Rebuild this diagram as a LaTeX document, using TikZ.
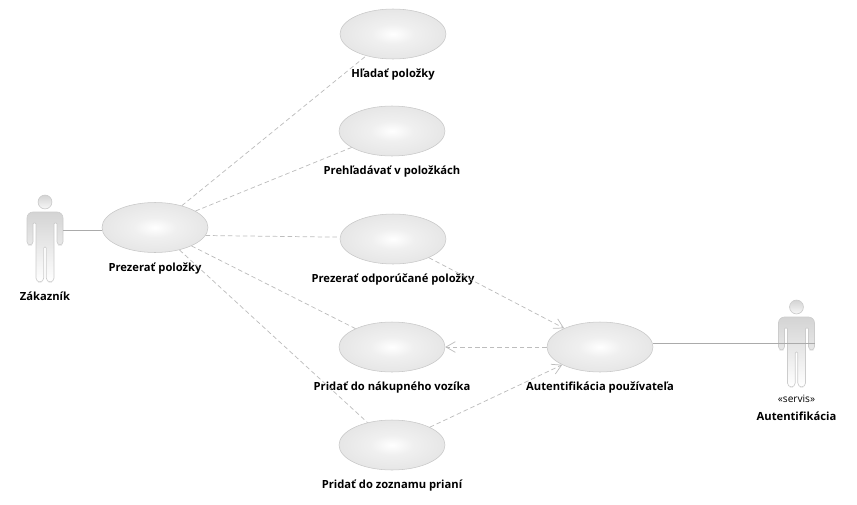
\documentclass[tikz,border=0pt]{standalone}
\usepackage{fontspec}
\setmainfont{Open Sans}
\usetikzlibrary{positioning,shapes.geometric,arrows.meta}
\pgfdeclareradialshading{ucshade}{\pgfpoint{0bp}{0bp}}{color(0bp)=(white); color(10bp)=(black!6); color(30bp)=(black!11); color(50bp)=(black!16)}
\begin{document}
\begin{tikzpicture}[x=0.75pt,y=-0.75pt]
    % Define styles
    \tikzset{
        usecase/.style = {ellipse, draw=black!22, inner sep=0pt, minimum width=79.5pt, minimum height=37.5pt, shading=ucshade},
        boldtext/.style = {font=\bfseries\fontsize{8.4pt}{10pt}\selectfont, inner sep=0pt},
        caption/.style = {boldtext, text height=8pt, text depth=2.5pt, below=5.6pt of #1},
        assoc/.style = {draw=black!33, line width=0.75pt},
        link/.style = {draw=black!26, line width=0.55pt, dash pattern=on 3.4pt off 2.2pt},
        dep/.style = {link, -{Straight Barb[length=7pt,width=8pt]}},
        pics/actor/.style = {code={
            \path[draw=black!20, line width=0.5pt, top color=black!17, bottom color=white]
                [rounded corners=4.5pt] (0,0) -- (18,0)
                [rounded corners=2.5pt] -- (18,33) -- (12,33)
                [rounded corners=0.6pt] -- (12,11) -- (9,11)
                [rounded corners=3pt] -- (9,70) -- (1.3,70)
                [rounded corners=0.8pt] -- (1.3,35) -- (-1.3,35)
                [rounded corners=3pt] -- (-1.3,70) -- (-9,70)
                [rounded corners=0.6pt] -- (-9,11) -- (-12,11)
                [rounded corners=2.5pt] -- (-12,33) -- (-18,33)
                [rounded corners=4.5pt] -- (-18,0) -- cycle;
            \path[draw=black!20, line width=0.5pt, top color=black!17, bottom color=black!3] (0,-10) circle (5.2pt);
            \coordinate (-arm) at (18,#1);
        }}
    }
    \useasboundingbox (0,0) rectangle (857,504);

    % Actors
    \pic (zak) at (45,212) {actor=18};
    \pic (serv) at (796.5,317) {actor=26};
    \node[boldtext] (zaklabel) at (45,296) {Zákazník};
    \node[font=\fontsize{7.6pt}{9pt}\selectfont, inner sep=0pt] (servtype) at (796.5,399) {«servis»};
    \node[boldtext] (servlabel) at (796.5,416) {Autentifikácia};

    % Use cases
    \node[usecase] (hladat) at (393,34) {};
    \node[usecase] (prehl) at (392,131) {};
    \node[usecase] (prez) at (155,227.5) {};
    \node[usecase] (odpor) at (393,239) {};
    \node[usecase] (nakup) at (392,347) {};
    \node[usecase] (auth) at (600,347) {};
    \node[usecase] (zoznam) at (392,445) {};

    % Captions
    \node[caption=hladat] (hladatlabel) {Hľadať položky};
    \node[caption=prehl] (prehllabel) {Prehľadávať v položkách};
    \node[caption=prez] (prezlabel) {Prezerať položky};
    \node[caption=odpor] (odporlabel) {Prezerať odporúčané položky};
    \node[caption=nakup] (nakuplabel) {Pridať do nákupného vozíka};
    \node[caption=auth] (authlabel) {Autentifikácia používateľa};
    \node[caption=zoznam] (zoznamlabel) {Pridať do zoznamu prianí};

    % Arrows
    \draw[assoc] (zak-arm) -- (zak-arm -| prez.west);
    \draw[assoc] (serv-arm -| auth.east) -- (serv-arm);
    \draw[link] (prez) -- (hladat);
    \draw[link] (prez) -- (prehl);
    \draw[link] (prez.-9) -- (odpor.178);
    \draw[link] (prez) -- (nakup);
    \draw[link] (prez) -- (zoznam);
    \draw[dep] (odpor) -- (auth);
    \draw[dep] (auth) -- (nakup);
    \draw[dep] (zoznam) -- (auth);

\end{tikzpicture}
\end{document}
